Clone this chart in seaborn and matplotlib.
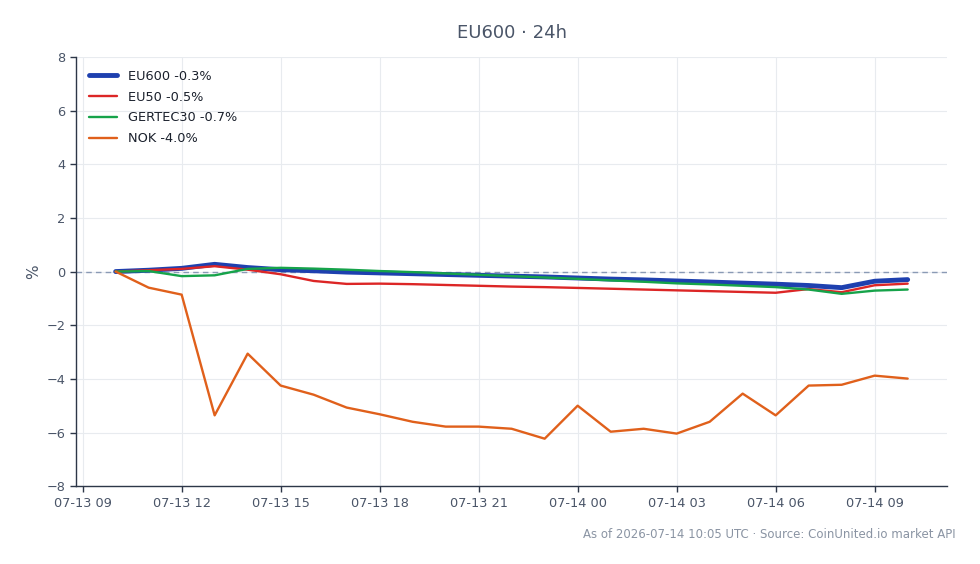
import pandas as pd
import seaborn as sns
import numpy as np
import matplotlib.pyplot as plt
import matplotlib.dates as mdates

# hourly points, 07-13 10:00 -> 07-14 10:00
times = pd.date_range("2026-07-13 10:00", "2026-07-14 10:00", freq="h")

eu600 = [0.0, 0.05, 0.12, 0.27, 0.15, 0.07, 0.03, -0.02, -0.05, -0.08, -0.11, -0.14,
         -0.17, -0.20, -0.24, -0.28, -0.31, -0.35, -0.39, -0.43, -0.47, -0.52, -0.60, -0.36, -0.30]
eu50 = [0.0, 0.05, 0.10, 0.20, 0.07, -0.10, -0.35, -0.46, -0.45, -0.47, -0.50, -0.53,
        -0.56, -0.58, -0.61, -0.64, -0.67, -0.70, -0.73, -0.76, -0.79, -0.65, -0.77, -0.51, -0.45]
gertec30 = [0.0, 0.02, -0.17, -0.14, 0.10, 0.14, 0.11, 0.07, 0.02, -0.02, -0.07, -0.12,
            -0.17, -0.22, -0.27, -0.33, -0.38, -0.44, -0.48, -0.53, -0.58, -0.67, -0.83, -0.71, -0.67]
nok = [0.0, -0.60, -0.86, -5.36, -3.06, -4.25, -4.59, -5.07, -5.32, -5.60, -5.78, -5.78,
       -5.86, -6.23, -5.00, -5.97, -5.86, -6.04, -5.60, -4.55, -5.36, -4.25, -4.22, -3.88, -3.99]

names = ["EU600 -0.3%", "EU50 -0.5%", "GERTEC30 -0.7%", "NOK -4.0%"]
colors = ["#1e40af", "#dc2626", "#16a34a", "#e0601b"]
widths = [3.5, 1.7, 1.7, 1.7]

df = pd.DataFrame({"time": times, "EU600 -0.3%": eu600, "EU50 -0.5%": eu50,
                   "GERTEC30 -0.7%": gertec30, "NOK -4.0%": nok})

sns.set_theme(style="whitegrid")
plt.rcParams['font.family'] = ['DejaVu Sans']
text_col = "#4a5568"

fig = plt.figure(figsize=(9.8, 5.64), dpi=100)
ax = fig.add_axes([0.0776, 0.138, 0.889, 0.761])

for name, c, w in zip(names, colors, widths):
    sns.lineplot(data=df, x="time", y=name, ax=ax, color=c, linewidth=w, label=name, zorder=3)

ax.axhline(0, color="#8a9ab5", linestyle="--", linewidth=1, dashes=(4, 3), zorder=2)

ax.set_ylim(-8, 8)
ax.set_yticks(np.arange(-8, 9, 2))
ax.xaxis.set_major_locator(mdates.HourLocator(byhour=[0, 3, 6, 9, 12, 15, 18, 21]))
ax.xaxis.set_major_formatter(mdates.DateFormatter("%m-%d %H"))
ax.margins(x=0.05)

ax.grid(True, color="#e8ebef", linewidth=0.8)
ax.set_axisbelow(True)
ax.set_facecolor("white")
for s in ["top", "right"]:
    ax.spines[s].set_visible(False)
for s in ["left", "bottom"]:
    ax.spines[s].set_color("#2d3748")
    ax.spines[s].set_linewidth(1.0)
ax.tick_params(axis="both", colors=text_col, labelsize=9.3, length=4, width=1,
               direction="out", bottom=True, left=True)
ax.tick_params(axis="both", color="#2d3748")

ax.set_xlabel("")
ax.set_ylabel("%", color=text_col, fontsize=11)
ax.set_title("EU600 · 24h", color=text_col, fontsize=13, pad=14)

leg = ax.legend(loc="upper left", frameon=False, fontsize=9.3, handlelength=2.2,
                labelspacing=0.6, borderaxespad=0.6)
for t in leg.get_texts():
    t.set_color("#1a202c")

fig.text(0.975, 0.053, "As of 2026-07-14 10:05 UTC · Source: CoinUnited.io market API",
         ha="right", va="center", fontsize=8.5, color="#8a94a3")

fig.savefig("out.png", dpi=100)
